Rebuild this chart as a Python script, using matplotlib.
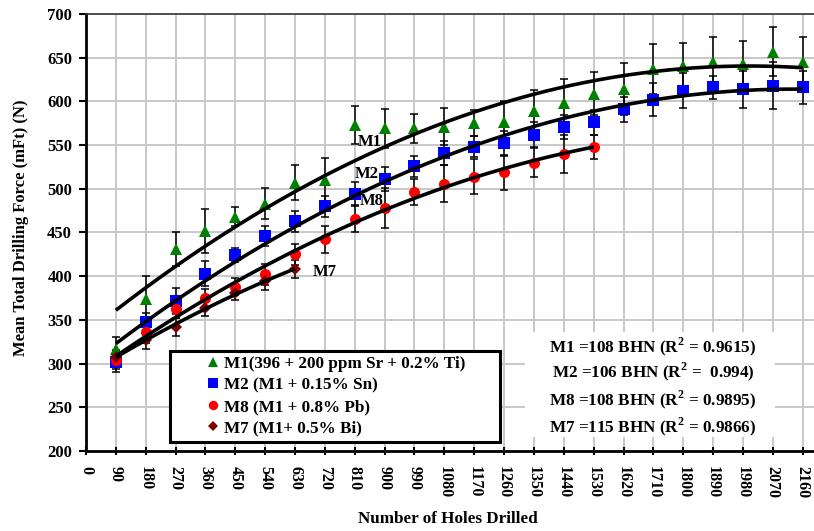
import numpy as np
import matplotlib
matplotlib.use("Agg")
import matplotlib.pyplot as plt
from matplotlib.patches import Rectangle

holes = [90, 180, 270, 360, 450, 540, 630, 720, 810, 900, 990, 1080,
         1170, 1260, 1350, 1440, 1530, 1620, 1710, 1800, 1890, 1980, 2070, 2160]

m1 = [317, 374, 431, 452, 468, 483, 507, 510, 573, 569, 569, 571,
      575, 576, 589, 598, 609, 614, 637, 640, 645, 643, 657, 645]
m1_err = [13, 26, 19, 25, 11, 18, 20, 25, 22, 22, 17, 21,
          15, 25, 24, 28, 25, 30, 29, 27, 29, 26, 28, 29]

m2 = [302, 348, 372, 403, 424, 446, 463, 480, 494, 511, 526, 541,
      548, 552, 562, 571, 576, 591, 602, 612, 616, 614, 618, 616]
m2_err = [12, 10, 15, 14, 8, 12, 12, 12, 14, 14, 12, 14,
          12, 14, 14, 14, 14, 14, 19, 20, 13, 21, 27, 19]

m8 = [304, 336, 362, 375, 388, 402, 425, 442, 466, 478, 496, 506,
      514, 519, 530, 540, 548]
m8_err = [10, 12, 10, 10, 10, 12, 12, 15, 15, 23, 15, 21,
          20, 20, 17, 22, 14]

m7 = [308, 327, 342, 364, 381, 394, 408]
m7_err = [8, 10, 10, 10, 8, 10, 10]

labels = ["M1(396 + 200 ppm Sr + 0.2% Ti)", "M2 (M1 + 0.15% Sn)",
          "M8 (M1 + 0.8% Pb)", "M7 (M1+ 0.5% Bi)"]
curve_names = ["M1", "M2", "M8", "M7"]
hardness = ["M1 =108 BHN (R$^{2}$ = 0.9615)", "M2 =106 BHN (R$^{2}$ =  0.994)",
            "M8 =108 BHN (R$^{2}$ = 0.9895)", "M7 =115 BHN (R$^{2}$ = 0.9866)"]

x_ticks = list(range(0, 2161, 90))
y_ticks = list(range(200, 701, 50))

plt.rcParams['font.family'] = ['Liberation Serif', 'DejaVu Serif']
plt.rcParams['font.weight'] = 'bold'
plt.rcParams['mathtext.fontset'] = 'custom'
plt.rcParams['mathtext.rm'] = 'Liberation Serif:bold'
plt.rcParams['mathtext.bf'] = 'Liberation Serif:bold'

W, H = 814, 531
fig = plt.figure(figsize=(W / 100, H / 100), dpi=100)
ax = fig.add_axes([86 / W, 80 / H, 728 / W, 437 / H])

series = [
    (m1, m1_err, '^', '#008000', 9),
    (m2, m2_err, 's', '#0000ff', 8),
    (m8, m8_err, 'o', '#ff0000', 8),
    (m7, m7_err, 'D', '#7f0000', 5.8),
]

handles = []
for (vals, errs, mk, col, ms), lab in zip(series, labels):
    xs = holes[:len(vals)]
    ax.errorbar(xs, vals, yerr=errs, fmt='none', ecolor='black',
                elinewidth=1.1, capsize=3.2, capthick=1.1, zorder=3)
    h, = ax.plot(xs, vals, linestyle='none', marker=mk, color=col,
                 markersize=ms, markeredgewidth=0, zorder=4, label=lab)
    handles.append(h)

for vals in [m1, m2, m8, m7]:
    xs = np.array(holes[:len(vals)], dtype=float)
    coef = np.polyfit(xs, vals, 2)
    xx = np.linspace(xs[0], xs[-1], 200)
    ax.plot(xx, np.polyval(coef, xx), color='black', lw=2.6, zorder=5,
            solid_capstyle='butt')

ax.text(820, 554, "M1", fontsize=12, fontweight='bold', va='center', ha='left', zorder=6)
ax.text(811, 517, "M2", fontsize=12, fontweight='bold', va='center', ha='left', zorder=6)
ax.text(826, 486, "M8", fontsize=12, fontweight='bold', va='center', ha='left', zorder=6)
ax.text(684, 405, "M7", fontsize=12, fontweight='bold', va='center', ha='left', zorder=6)

ax.set_xlim(0, 2194)
ax.set_ylim(200, 700)
ax.set_xticks(x_ticks)
ax.set_yticks(y_ticks)
ax.set_xticklabels([str(t) for t in x_ticks], rotation=-90, fontsize=11.5,
                   fontweight='bold')
ax.set_yticklabels([str(t) for t in y_ticks], fontsize=12, fontweight='bold')
ax.grid(True, color='#c8c8c8', lw=1.4, zorder=0)
ax.set_axisbelow(True)

ax.spines['right'].set_visible(False)
ax.spines['top'].set_color('#333333')
ax.spines['top'].set_linewidth(1.2)
ax.spines['left'].set_linewidth(2)
ax.spines['bottom'].set_linewidth(2)
ax.tick_params(axis='y', direction='out', length=5, width=1.5, pad=5)
ax.tick_params(axis='x', direction='inout', length=6, width=1.5, pad=8)

ax.set_xlabel("Number of Holes Drilled", fontsize=12.3, fontweight='bold')
ax.xaxis.set_label_coords(0.4965, -(519 - 451) / 437)
ax.xaxis.label.set_verticalalignment('center')
ax.set_ylabel("Mean Total Drilling Force (mFt) (N)", fontsize=12, fontweight='bold')
ax.yaxis.set_label_coords(-(86 - 21) / 728, 0.51)
ax.yaxis.label.set_verticalalignment('center')

# legend frame
fig.patches.append(Rectangle((170 / W, (H - 442) / H), 330 / W, 91 / H,
                             transform=fig.transFigure, facecolor='white',
                             edgecolor='black', linewidth=2.2, zorder=7))
leg = fig.legend(handles=handles, loc='upper left',
                 bbox_to_anchor=(206 / W, (H - 356) / H),
                 frameon=False, handlelength=0.8, markerscale=0.85,
                 handletextpad=0.25, labelspacing=0.32, borderpad=0,
                 borderaxespad=0,
                 prop={'family': 'Liberation Serif', 'weight': 'bold', 'size': 12.3})
leg.set_zorder(8)

box_x0 = (525 - 86) / 29.86 * 90
box_x1 = (775 - 86) / 29.86 * 90
box_y0 = 700 - (437 - 14) / 43.7 * 50
box_y1 = 700 - (332 - 14) / 43.7 * 50
ax.add_patch(Rectangle((box_x0, box_y0), box_x1 - box_x0, box_y1 - box_y0,
                       facecolor='white', edgecolor='none', zorder=2))
text_y = [319, 291, 258.5, 228]
cxv = ((551 + 755) / 2 - 86) / 29.86 * 90
for t, yv in zip(hardness, text_y):
    ax.text(cxv, yv, t, fontsize=12.3, fontweight='bold', ha='center', va='center',
            zorder=6)

fig.savefig("out.png", dpi=100)
